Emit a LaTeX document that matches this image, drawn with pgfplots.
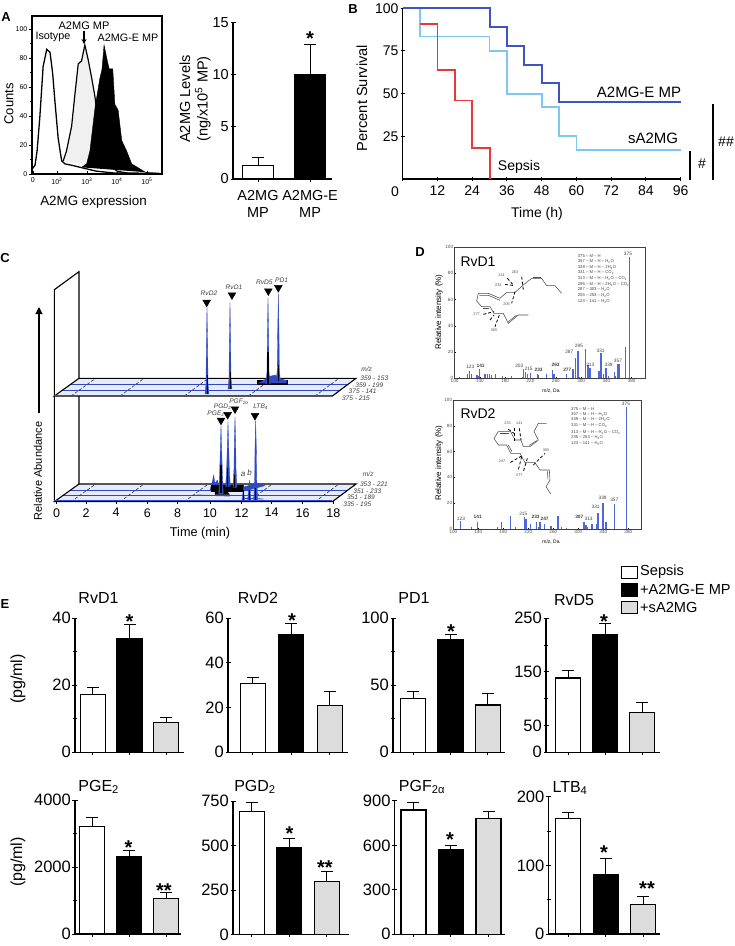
\documentclass[border=0pt]{standalone}
\usepackage{fontspec}
\setmainfont{Liberation Sans}
\usepackage{pgfplots}
\pgfplotsset{compat=1.18}
\usetikzlibrary{arrows.meta}

\definecolor{kmA}{HTML}{3B55C6}
\definecolor{kmS}{HTML}{7CC8F0}
\definecolor{kmR}{HTML}{E8383C}
\definecolor{pk}{HTML}{2F48C4}
\definecolor{floorc}{HTML}{E6EBFB}
\definecolor{msb}{HTML}{4E68DC}
\definecolor{greybar}{HTML}{DCDCDC}

\newcommand{\fs}[1]{\fontsize{#1}{#1}\selectfont}
% text at picture pixels (x right, y down)
\newcommand{\T}[4][]{\node[inner sep=0pt,#1] at (#2pt,-#3pt) {#4};}
\newcommand{\Star}[3]{\node[inner sep=0pt,anchor=base,font=\fs{20}\bfseries] at (#1pt,-#2pt-11.5pt) {#3};}

\pgfplotsset{
  ebar/.style={
    scale only axis, anchor=south west,
    axis lines=left, axis line style={-,line width=1.1pt},
    tick style={black,line width=1pt},
    major tick length=5pt, minor tick length=4pt,
    xtick={0,1,2}, xticklabels={}, ymin=0,
    enlargelimits=false, clip=false,
    tick label style={font=\fs{16.5}},
    /pgf/number format/assume math mode=true,
    /pgf/number format/1000 sep={},
    y tick label style={inner sep=1.5pt},
    scaled y ticks=false,
  },
  bar/.style={
    ybar, bar width=25pt, bar shift=0pt, draw=black, line width=1.1pt,
    error bars/y dir=plus, error bars/y explicit,
    error bars/error bar style={line width=1pt,black},
    error bars/error mark options={rotate=90,mark size=6pt,line width=1pt,black},
  },
  msaxis/.style={
    scale only axis, anchor=south west, axis line style={line width=1pt,black!75},
    enlargelimits=false, clip=false,
    xtick={100,140,...,380}, ytick={0,20,...,100},
    xtick pos=bottom, ytick pos=left,
    tick style={black,line width=.5pt}, major tick length=1.5pt,
    tick label style={font=\fs{4.6},inner sep=1pt,text=black!70},
    /pgf/number format/assume math mode=true,
    ymin=0,ymax=100,
  },
}
\newcommand{\three}[6]{
  \addplot[bar,fill=white] coordinates {(0,#1) +- (0,#2)};
  \addplot[bar,fill=black] coordinates {(1,#3) +- (0,#4)};
  \addplot[bar,fill=greybar] coordinates {(2,#5) +- (0,#6)};
}

\begin{document}
\begin{tikzpicture}
\useasboundingbox (0pt,0pt) rectangle (735pt,-946pt);

% ---- A, histogram
\begin{axis}[scale only axis,anchor=south west,at={(32pt,-174pt)},width=130pt,height=158pt,
  xmin=1.17,xmax=5.5,ymin=0,ymax=109,clip=false,enlargelimits=false,
  axis line style={line width=1.1pt},
  xtick={1.2,2,3,4,5},xticklabels={0,10\textsuperscript{2},10\textsuperscript{3},10\textsuperscript{4},10\textsuperscript{5}},
  minor xtick={1.5,1.75,2.3,2.5,2.7,2.85,3.3,3.5,3.7,3.85,4.3,4.5,4.7,4.85,5.3},
  ytick={0,20,40,60,80,100},minor ytick={10,30,50,70,90},
  xtick pos=bottom,ytick pos=left,xtick align=inside,ytick align=outside,
  major tick length=3pt,minor tick length=1.5pt,
  tick style={black,line width=.7pt},
  tick label style={font=\fs{7},inner sep=1.5pt},
  /pgf/number format/assume math mode=true,
  x tick label style={yshift=-2pt}]
\addplot[fill=black!6,draw=black,line width=1.2pt] coordinates {
  (2.21,9)(2.32,16)(2.49,33)(2.6,55)(2.71,76)(2.82,78)(2.93,89)(3.04,79)(3.16,66)(3.27,53)(3.4,30)(3.6,9)(4,2)(4.5,0)};
\addplot[fill=black,draw=black] coordinates {
  (2.82,4.6)(2.99,7)(3.1,16)(3.27,46)(3.43,66)(3.5,72)(3.57,89)(3.68,78)(3.74,72.5)(3.86,72.5)(3.93,48)(4.04,44)(4.16,23)(4.32,16)(4.49,7)(4.77,3.5)(4.99,0.7)(5.43,0.5)};
\addplot[draw=black,line width=1.3pt] coordinates {
  (1.18,3.5)(1.27,6)(1.34,16)(1.43,39)(1.54,74)(1.66,86)(1.77,84)(1.86,69)(1.93,51)(2.04,25)(2.12,14)(2.16,9)(2.27,7)(2.5,6)(2.9,4)(3.3,2)(3.9,0.7)(5.4,0.5)};
\end{axis}
\T{53}{37}{\fs{10.8}Isotype}
\T{84}{26}{\fs{11}A2MG MP}
\T{128}{38}{\fs{10.8}A2MG-E MP}
\draw[-{Stealth[length=5pt,width=5pt]},line width=1.1pt] (84pt,-31pt) -- (84pt,-44pt);
\T[rotate=90]{9}{104}{\fs{13}Counts}
\T{93.5}{202}{\fs{13.4}A2MG expression}
\T{6}{17}{\fs{13}\bfseries A}

% ---- A, bars
\begin{axis}[ebar,at={(233pt,-179pt)},width=99pt,height=156.5pt,
  xmin=-0.48,xmax=1.42,ymax=15,ytick={0,5,10,15},xtick={0,1},
  xticklabels={{A2MG\\[3pt]MP},{A2MG-E\\[3pt]MP}},
  tick label style={font=\fs{14.5}},
  x tick label style={align=center,yshift=-5pt},
  xticklabel style={font=\fs{14.5}}]
\addplot[bar,bar width=31.5pt,fill=white] coordinates {(0,1.3) +- (0,0.8)};
\addplot[bar,bar width=31.5pt,fill=black] coordinates {(1,10) +- (0,2.9)};
\end{axis}
\Star{310}{34}{*}
\T[rotate=90]{185}{99}{\fs{14.6}A2MG Levels}
\T[rotate=90]{203}{99}{\fs{14.6}(ng/x10\textsuperscript{5} MP)}

% ---- B, survival
\begin{axis}[scale only axis,anchor=south west,at={(402.7pt,-179pt)},width=278pt,height=170.7pt,
  xmin=0,xmax=96,ymin=0,ymax=100,enlargelimits=false,clip=false,
  axis lines=left,axis line style={-,line width=1.1pt},
  xtick={0,12,...,96},xticklabels={,12,24,36,48,60,72,84,96},
  ytick={25,50,75,100},
  tick style={black,line width=1pt},major tick length=4pt,
  tick label style={font=\fs{14}},
  /pgf/number format/assume math mode=true,
  x tick label style={inner sep=2pt,yshift=-3pt},
  y tick label style={inner sep=2pt}]
\addplot[kmS,line width=1.8pt] coordinates {(6,100)(6,83.5)(30,83.5)(30,75)(36,75)(36,50)(48,50)(48,42)(54,42)(54,25)(60,25)(60,17)(96,17)};
\addplot[kmA,line width=1.9pt] coordinates {(0,100)(30,100)(30,89)(36,89)(36,78)(42,78)(42,67)(48,67)(48,56)(54,56)(54,45)(96,45)};
\addplot[kmR,line width=1.9pt] coordinates {(6,91)(12,91)(12,64)(18,64)(18,46)(24,46)(24,18)(30,18)(30,0)};
\end{axis}
\T{395}{192}{\fs{14}0}
\T{537}{214}{\fs{14}Time (h)}
\T[rotate=90]{362}{98}{\fs{14.6}Percent Survival}
\T{639}{92}{\fs{15}A2MG-E MP}
\T{653}{138}{\fs{15}sA2MG}
\T{519}{167}{\fs{14}Sepsis}
\draw[line width=1.1pt] (690pt,-151pt) -- (690pt,-180pt);
\draw[line width=1.1pt] (713pt,-104pt) -- (713pt,-180pt);
\T{702}{164}{\fs{14}\#}
\T{726}{142}{\fs{14}\#\#}
\T{353}{9}{\fs{13}\bfseries B}

% ---- C, stacked chromatograms; data in 1/3 px of the panel
\newcommand{\floorp}[1]{
  \fill[floorc] (axis cs:163,{#1}) -- (axis cs:997,{#1}) -- (axis cs:1068,{#1-53}) -- (axis cs:237,{#1-53}) -- cycle;
  \draw[pk,line width=1pt] (axis cs:187,{#1-18}) -- (axis cs:1021,{#1-18});
  \draw[pk,line width=1pt] (axis cs:212,{#1-35}) -- (axis cs:1045,{#1-35});
  \draw[black!80,densely dashed,line width=.6pt] (axis cs:213,{#1}) -- (axis cs:287,{#1-53});
  \draw[black!80,densely dashed,line width=.6pt] (axis cs:360,{#1}) -- (axis cs:432,{#1-53});
  \draw[black!80,densely dashed,line width=.6pt] (axis cs:553,{#1}) -- (axis cs:625,{#1-53});
  \draw[black!80,densely dashed,line width=.6pt] (axis cs:745,{#1}) -- (axis cs:817,{#1-53});
  \draw[black!80,densely dashed,line width=.6pt] (axis cs:945,{#1}) -- (axis cs:1017,{#1-53});
  \draw[black,line width=1.1pt] (axis cs:163,{#1}) -- (axis cs:997,{#1}) -- (axis cs:1068,{#1-53}) -- (axis cs:237,{#1-53}) -- cycle;
  \draw[pk,line width=1pt] (axis cs:163,{#1-3}) -- (axis cs:997,{#1-3});
}
\begin{axis}[scale only axis,anchor=south west,at={(54.33pt,-501.67pt)},width=280pt,height=230pt,
  xmin=163,xmax=1003,ymin=170,ymax=860,y dir=reverse,clip=false,enlargelimits=false,
  axis x line=bottom,axis y line=none,axis line style={-,line width=1.1pt},
  x tick label style={font=\fs{12.5},inner sep=2pt,yshift=-2pt},
  xtick={170,258,348,442,533,630,725,815,908,1000},
  xticklabels={0,2,4,6,8,10,12,14,16,18},
  minor x tick num=3,major tick length=2.5pt,minor tick length=1.5pt,
  tick style={black,line width=.5pt},tick align=outside]
\draw[black,line width=1.1pt] (axis cs:163,860) -- (axis cs:163,224) -- (axis cs:237,170) -- (axis cs:237,808);
\floorp{860}
\floorp{543}
% upper group
\addplot[fill=black,draw=black] coordinates {(772,497)(862,497)(862,507)(772,507)};
\addplot[fill=pk,draw=pk,line width=.3pt] coordinates {(775,505)(790,497)(805,485)(825,480)(840,490)(860,497)(860,504)};
\addplot[fill=pk,draw=pk,line width=.3pt] coordinates {(615,537)(618,505)(619,400)(621,275)(623,400)(624,505)(627,537)};
\addplot[fill=pk,draw=pk,line width=.3pt] coordinates {(684,522)(687,490)(688,385)(690,262)(692,385)(693,490)(696,522)};
\addplot[fill=pk,draw=pk,line width=.3pt] coordinates {(797,507)(801,470)(802,370)(804,248)(806,370)(807,470)(811,507)};
\addplot[fill=pk,draw=pk,line width=.3pt] coordinates {(829,497)(832,460)(833,355)(835,235)(837,355)(838,460)(841,497)};
\addplot[black,line width=.7pt] coordinates {(621,537)(621,480)};
\addplot[black,line width=.7pt] coordinates {(690,522)(690,470)};
\addplot[black,line width=1.1pt] coordinates {(804,507)(804,410)};
\addplot[black,line width=.7pt] coordinates {(835,497)(835,450)};
% lower group
\addplot[fill=pk,draw=pk,line width=.3pt] coordinates {(630,825)(637,800)(641,780)(645,805)(652,795)(658,815)(735,815)(770,805)(795,812)(735,828)(630,828)};
\addplot[fill=black,draw=black] coordinates {(632,812)(730,812)(730,828)(632,828)};
\addplot[fill=black,draw=black] coordinates {(645,828)(680,828)(688,838)(645,838)};
\addplot[fill=pk,draw=pk,line width=.3pt] coordinates {(656,838)(659,770)(661,700)(663,632)(665,700)(667,770)(670,838)};
\addplot[fill=pk,draw=pk,line width=.3pt] coordinates {(677,815)(680,760)(682,690)(684,620)(686,690)(688,760)(691,815)};
\addplot[fill=pk,draw=pk,line width=.3pt] coordinates {(699,818)(702,760)(703,680)(705,605)(707,680)(708,760)(711,818)};
\addplot[fill=pk,draw=pk,line width=.3pt] coordinates {(761,855)(764,790)(765,700)(767,617)(769,700)(770,790)(773,855)};
\addplot[fill=pk,draw=pk,line width=.3pt] coordinates {(726,855)(729,830)(730,810)(731,830)(734,855)};
\addplot[fill=pk,draw=pk,line width=.3pt] coordinates {(743,855)(746,820)(748,795)(750,820)(753,855)};
\addplot[pk,line width=.8pt] coordinates {(590,840)(690,843)};
\addplot[pk,line width=.8pt] coordinates {(735,850)(790,852)};
\addplot[black,line width=1.1pt] coordinates {(663,835)(663,750)};
\addplot[black,line width=1pt] coordinates {(684,812)(684,760)};
\addplot[black,line width=1pt] coordinates {(705,815)(705,780)};
\addplot[black,line width=.7pt] coordinates {(767,855)(767,820)};
\addplot[black,line width=.9pt] coordinates {(730,855)(730,825)};
\addplot[black,line width=.9pt] coordinates {(748,855)(748,825)};
% peak arrowheads
\addplot[only marks,mark=triangle*,mark size=4.5pt,mark options={rotate=180,fill=black,draw=black}] coordinates {
  (620,262)(696,240)(805,228)(835,218)(663,616)(683,599)(705,582)(765,602)};
\end{axis}
\begin{scope}[shift={(0pt,-215pt)},x=.3333pt,y=-.3333pt,font=\fs{6.6}\itshape,text=black!75]
\node at (627,236) {RvD2};
\node at (702,217) {RvD1};
\node at (793,201) {RvD5};
\node at (845,196) {PD1};
\node at (648,597) {PGE\textsubscript{2}};
\node at (668,575) {PGD\textsubscript{2}};
\node at (717,560) {PGF\textsubscript{2α}};
\node at (782,575) {LTB\textsubscript{4}};
\node[font=\fs{8}\itshape] at (729,777) {a};
\node[font=\fs{8}\itshape] at (749,772) {b};
\node at (1100,463) {m/z};
\node at (1123,490) {359 - 153};
\node at (1108,512) {359 - 199};
\node at (1088,530) {375 - 141};
\node at (1068,550) {375 - 215};
\node at (1105,777) {m/z};
\node at (1122,808) {353 - 221};
\node at (1102,829) {351 - 233};
\node at (1083,848) {351 - 189};
\node at (1072,867) {335 - 195};
\end{scope}
\draw[-{Triangle[length=7pt,width=7pt]},line width=1.1pt] (39pt,-413pt) -- (39pt,-307pt);
\T[rotate=90]{38}{471}{\fs{11}Relative Abundance}
\T{200}{533}{\fs{12.7}Time (min)}
\T{5}{258}{\fs{13}\bfseries C}

% ---- D, spectra
\begin{axis}[msaxis,at={(454.3pt,-378.3pt)},width=190.7pt,height=131.3pt,xmin=99.6,xmax=401]
\addplot[ycomb,msb,line width=1.4pt] coordinates {
  (107.9,1.3)(120,3.6)(123.2,5.4)(126.4,3.3)(135.4,2.8)(137.5,1.8)(139.6,7.2)(148,3.6)(151.7,3.6)(154.9,3.6)
  (158,2.8)(164.4,3.6)(176,1.8)(190.3,1.8)(207.2,1.3)(209.3,7.2)(212.5,4.9)(215.1,3.6)(220.4,3.8)(230.9,3.6)
  (233,2.6)(245.2,3.3)(254.7,6.4)(257.3,3.3)(276.9,3.3)(286.9,6.9)(291.1,15.1)(294.8,21)(296.9,1.3)(306.9,22.6)
  (311.2,10.3)(313.8,7.9)(328.6,5.6)(331.3,19)(335.5,3.3)(339.2,7.9)(343.4,1.8)(352.4,5.1)(354.5,2)(357.7,11)
  (359.8,11)(369.8,23.8)(376.1,92.5)};
\end{axis}
\begin{axis}[msaxis,at={(453.3pt,-529pt)},width=188.4pt,height=129pt,xmin=100,xmax=401.4]
\addplot[ycomb,msb,line width=1.4pt] coordinates {
  (111.7,6.2)(129.4,1.3)(139,5.4)(171,1.8)(177.4,5.4)(191.8,10)(199.9,1.3)(214.3,9)(216.4,8)(223.9,3.8)
  (233,5.1)(236.7,1.8)(238.8,5.6)(245.8,3.8)(256.5,2)(267.7,10.3)(273.5,1.3)(281.5,1)(308.8,5.4)(312,3.3)
  (314.1,1.8)(321.6,4.1)(329.6,3.8)(331.8,12.6)(339.8,20.3)(344.6,5.1)(357.9,19.7)(376.6,94.8)};
\end{axis}
\T[rotate=90]{439}{312}{\fs{8}Relative intensity (\%)}
\T[rotate=90]{439}{463}{\fs{8}Relative intensity (\%)}
\T{551}{391}{\fs{5}m/z, Da}
\T{551}{542}{\fs{5}m/z, Da}
\T{478}{262}{\fs{14}RvD1}
\T{478}{414}{\fs{14}RvD2}
\T{420}{252}{\fs{13}\bfseries D}
\begin{scope}[font=\fs{4.2},text=black!75]
\T[anchor=west]{577.7}{256.3}{375 – M – H}
\T[anchor=west]{577.7}{262}{357 – M – H – H\textsubscript{2}O}
\T[anchor=west]{577.7}{267.5}{339 – M – H – 2H\textsubscript{2}O}
\T[anchor=west]{577.7}{273}{331 – M – H – CO\textsubscript{2}}
\T[anchor=west]{577.7}{278.5}{313 – M – H – H\textsubscript{2}O – CO\textsubscript{2}}
\T[anchor=west]{577.7}{284.3}{295 – M – H – 2H\textsubscript{2}O – CO\textsubscript{2}}
\T[anchor=west]{577.7}{290}{287 – 303 – H\textsubscript{2}O}
\T[anchor=west]{577.7}{296}{255 – 253 – H\textsubscript{2}O}
\T[anchor=west]{577.7}{301.7}{123 – 141 – H\textsubscript{2}O}
\T[anchor=west]{571}{409.3}{375 – M – H}
\T[anchor=west]{571}{415}{357 – M – H – H\textsubscript{2}O}
\T[anchor=west]{571}{420}{339 – M – H – 2H\textsubscript{2}O}
\T[anchor=west]{571}{425.7}{331 – M – H – CO\textsubscript{2}}
\T[anchor=west]{571}{432.3}{313 – M – H – H\textsubscript{2}O – CO\textsubscript{2}}
\T[anchor=west]{571}{438}{235 – 253 – H\textsubscript{2}O}
\T[anchor=west]{571}{443.7}{123 – 141 – H\textsubscript{2}O}
\end{scope}
% peak labels of the spectra
\begin{scope}[shift={(440pt,-330pt)},x=.3333pt,y=-.3333pt,font=\fs{4.8},text=black!75]
\node at (91,110) {123};
\node[font=\fs{4.8}\bfseries] at (122,107) {141};
\node at (238,108) {203};
\node at (266,117) {215};
\node[font=\fs{4.8}\bfseries] at (296,119) {233};
\node[font=\fs{4.8}\bfseries] at (347,106) {263};
\node[font=\fs{4.8}\bfseries] at (382,119) {277};
\node at (388,66) {287};
\node at (417,48) {295};
\node at (451,104) {313};
\node at (482,62) {331};
\node at (506,104) {339};
\node at (534,92) {357};
\node at (564,-228) {375};
\end{scope}
\begin{scope}[shift={(440pt,-490pt)},x=.3333pt,y=-.3333pt,font=\fs{4.8},text=black!75]
\node at (63,88) {123};
\node[font=\fs{4.8}\bfseries] at (113,80) {141};
\node at (250,71) {215};
\node[font=\fs{4.8}\bfseries] at (287,80) {233};
\node[font=\fs{4.8}\bfseries] at (314,87) {247};
\node[font=\fs{4.8}\bfseries] at (418,80) {307};
\node at (446,88) {313};
\node at (467,51) {331};
\node at (488,25) {339};
\node at (523,30) {357};
\node at (558,-260) {375};
\end{scope}
% structures
\begin{scope}[shift={(420pt,-215pt)},x=.3333pt,y=-.3333pt,line width=.55pt,black!70]
\draw (425,235) -- (405,212) -- (380,212) -- (365,190) -- (335,190) -- (310,210) -- (285,232) -- (260,232) -- (240,250) -- (205,235) -- (175,235) -- (170,258) -- (185,275) -- (210,275) -- (222,295) -- (250,295) -- (265,325) -- (295,300) -- (325,300);
\draw (240,256) -- (205,241) -- (178,241);
\draw (338,186) -- (362,186);
\draw (190,280) -- (208,280);
\draw (265,320) -- (290,300);
\draw[black,line width=.8pt,densely dashed] (262,190) -- (280,210);
\draw[black,line width=.8pt,densely dashed] (305,185) -- (310,225);
\draw[black,line width=.8pt,densely dashed] (255,208) -- (283,212);
\draw[black,line width=.8pt,densely dashed] (285,230) -- (275,265);
\draw[black,line width=.8pt,densely dashed] (190,298) -- (222,290);
\draw[black,line width=.8pt,densely dashed] (238,300) -- (225,335);
\draw[black,line width=.8pt,densely dashed] (210,315) -- (222,300);
\node[font=\fs{3.8}] at (245,180) {141};
\node[font=\fs{3.8}] at (285,171) {263};
\node[font=\fs{3.8}] at (235,210) {233};
\node[font=\fs{3.8}] at (170,298) {277};
\node[font=\fs{3.8}] at (260,268) {205};
\node[font=\fs{3.8}] at (222,345) {305};
\end{scope}
\begin{scope}[shift={(440pt,-390pt)},x=.3333pt,y=-.3333pt,line width=.55pt,black!70]
\draw (320,100) -- (295,100) -- (282,125) -- (295,150) -- (270,170) -- (250,170) -- (243,150) -- (225,150) -- (212,125) -- (175,125) -- (162,145) -- (175,165) -- (200,165) -- (212,190) -- (240,190) -- (255,218) -- (285,218) -- (300,240) -- (328,240) -- (330,270) -- (318,290) -- (332,312);
\draw (290,152) -- (268,166);
\draw (180,130) -- (208,130);
\draw (205,165) -- (216,185);
\draw (322,243) -- (324,268);
\draw[black,line width=.8pt,densely dashed] (222,115) -- (222,155);
\draw[black,line width=.8pt,densely dashed] (205,118) -- (222,130);
\draw[black,line width=.8pt,densely dashed] (238,115) -- (243,150);
\draw[black,line width=.8pt,densely dashed] (245,198) -- (210,218);
\draw[black,line width=.8pt,densely dashed] (262,205) -- (250,245);
\draw[black,line width=.8pt,densely dashed] (245,200) -- (235,240);
\draw[black,line width=.8pt,densely dashed] (280,225) -- (315,190);
\node[font=\fs{3.8}] at (203,101) {233};
\node[font=\fs{3.8}] at (238,99) {141};
\node[font=\fs{3.8}] at (186,214) {247};
\node[font=\fs{3.8}] at (238,256) {277};
\node[font=\fs{3.8}] at (318,180) {305};
\end{scope}

% ---- E, top row
\begin{axis}[ebar,at={(75pt,-752.3pt)},width=109pt,height=134pt,xmin=-0.49,xmax=2.49,ymax=40,ytick={0,20,40},minor ytick={10,30}]
\three{17.3}{1.9}{33.9}{4.4}{8.8}{1.5}
\end{axis}
\begin{axis}[ebar,at={(228pt,-752.3pt)},width=120pt,height=134pt,xmin=-0.65,xmax=2.48,ymax=60,ytick={0,20,40,60}]
\three{30.7}{2.9}{52.8}{5}{20.9}{6.4}
\end{axis}
\begin{axis}[ebar,at={(393pt,-752.3pt)},width=112.4pt,height=134pt,xmin=-0.55,xmax=2.48,ymax=100,ytick={0,50,100},minor ytick={25,75}]
\three{40.3}{5.4}{84}{4}{35.3}{8.7}
\end{axis}
\begin{axis}[ebar,at={(546pt,-752.3pt)},width=114pt,height=134pt,xmin=-0.6,xmax=2.48,ymax=250,ytick={0,50,150,250},minor ytick={100,200}]
\three{138.6}{13.1}{219.4}{20.6}{74.6}{17.9}
\end{axis}
\T{98.5}{598}{\fs{16}RvD1}
\T{258}{598}{\fs{16}RvD2}
\T{414}{598}{\fs{16}PD1}
\T{574}{600}{\fs{16}RvD5}
\Star{129.5}{617}{*}
\Star{292}{616}{*}
\Star{451}{627}{*}
\Star{604}{617}{*}
\T[rotate=90]{18}{679}{\fs{16}(pg/ml)}
\T{5}{604}{\fs{13}\bfseries E}

% ---- E, bottom row
\begin{axis}[ebar,at={(75pt,-934pt)},width=105.5pt,height=134pt,xmin=-0.47,xmax=2.39,ymax=4000,ytick={0,2000,4000},minor ytick={1000,3000}]
\three{3214}{258}{2298}{200}{1055}{188}
\end{axis}
\begin{axis}[ebar,at={(233pt,-934.7pt)},width=116pt,height=133.4pt,xmin=-0.5,xmax=2.59,ymax=750,ytick={0,250,500,750}]
\three{694}{50}{489}{51}{298}{58}
\end{axis}
\begin{axis}[ebar,at={(394.7pt,-934.3pt)},width=110.7pt,height=133.4pt,xmin=-0.5,xmax=2.45,ymax=900,ytick={0,300,600,900}]
\three{839}{47}{571}{29}{781}{49}
\end{axis}
\begin{axis}[ebar,at={(548.5pt,-934pt)},width=111.5pt,height=137.3pt,xmin=-0.525,xmax=2.45,ymax=200,ytick={0,100,200},minor ytick={50,150}]
\three{168}{9}{87}{23}{43}{11}
\end{axis}
\T{98.7}{787}{\fs{16}PGE\textsubscript{2}}
\T{255}{787}{\fs{16}PGD\textsubscript{2}}
\T{422}{787}{\fs{16}PGF\textsubscript{2α}}
\T{570}{788}{\fs{16}LTB\textsubscript{4}}
\Star{128.5}{843}{*}
\Star{164}{886}{**}
\Star{289.5}{829}{*}
\Star{325}{863}{**}
\Star{450}{835}{*}
\Star{604}{848}{*}
\Star{647}{884}{**}
\T[rotate=90]{18}{862}{\fs{16}(pg/ml)}

% legend
\draw[black,line width=1pt,fill=white] (621pt,-566pt) rectangle (637pt,-578pt);
\draw[black,line width=1pt,fill=black] (621pt,-583pt) rectangle (637pt,-596pt);
\draw[black,line width=1pt,fill=greybar] (621pt,-601pt) rectangle (637pt,-613pt);
\T[anchor=west]{640}{572}{\fs{14.6}Sepsis}
\T[anchor=west]{640}{589}{\fs{14.6}+A2MG-E MP}
\T[anchor=west]{640}{607}{\fs{14.6}+sA2MG}
\end{tikzpicture}
\end{document}
